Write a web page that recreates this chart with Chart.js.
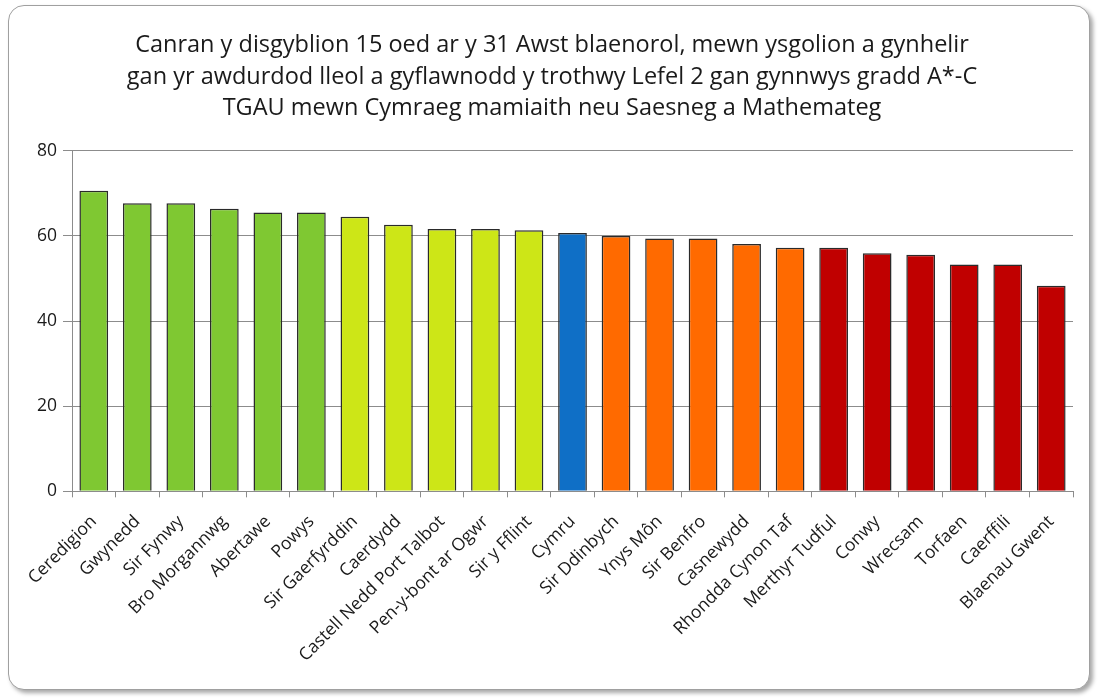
<!DOCTYPE html>
<html>
<head>
<meta charset="utf-8">
<script src="https://cdn.jsdelivr.net/npm/chart.js@4.4.1/dist/chart.umd.min.js"></script>
<style>
  html, body { margin: 0; padding: 0; background: #fff; }
  #box {
    position: absolute; left: 8px; top: 5px; width: 1080px; height: 683px;
    border: 1px solid #a0a0a0; border-radius: 16px; background: #fff;
    box-shadow: 3px 3px 4px rgba(0,0,0,0.35);
  }
  #wrap { position: absolute; left: 0; top: 0; width: 1080px; height: 683px; }
</style>
</head>
<body>
<div id="box"><div id="wrap"><canvas id="chart"></canvas></div></div>
<script>
const titleLines = [
  'Canran y disgyblion 15 oed ar y 31 Awst blaenorol, mewn ysgolion a gynhelir',
  'gan yr awdurdod lleol a gyflawnodd y trothwy Lefel 2 gan gynnwys gradd A*-C',
  'TGAU mewn Cymraeg mamiaith neu Saesneg a Mathemateg'
]
const areas = ['Ceredigion', 'Gwynedd', 'Sir Fynwy', 'Bro Morgannwg', 'Abertawe', 'Powys',
  'Sir Gaerfyrddin', 'Caerdydd', 'Castell Nedd Port Talbot', 'Pen-y-bont ar Ogwr', 'Sir y Fflint',
  'Cymru', 'Sir Ddinbych', 'Ynys Môn', 'Sir Benfro', 'Casnewydd', 'Rhondda Cynon Taf',
  'Merthyr Tudful', 'Conwy', 'Wrecsam', 'Torfaen', 'Caerffili', 'Blaenau Gwent']
const percent = [70.6, 67.7, 67.7, 66.4, 65.5, 65.5, 64.5, 62.6, 61.6, 61.6, 61.3,
  60.7, 60.0, 59.4, 59.4, 58.1, 57.2, 57.2, 55.9, 55.6, 53.3, 53.3, 48.3]
// quartile group of each area (0 = top ... 3 = bottom, 'W' = Wales average)
const quartile = [0, 0, 0, 0, 0, 0, 1, 1, 1, 1, 1, 'W', 2, 2, 2, 2, 2, 3, 3, 3, 3, 3, 3]
const yTicks = [0, 20, 40, 60, 80]

const fills = { 0: '#7fc832', 1: '#cde617', 2: '#ff6a00', 3: '#c00000', W: '#0f6fc6' }
const font = '"Open Sans", "DejaVu Sans", sans-serif'

new Chart(document.getElementById('chart'), {
  type: 'bar',
  data: {
    labels: areas,
    datasets: [{
      data: percent,
      backgroundColor: quartile.map(q => fills[q]),
      borderColor: '#2a2a2a',
      borderWidth: 1.5,
      barPercentage: 0.66,
      categoryPercentage: 1
    }]
  },
  options: {
    responsive: true,
    maintainAspectRatio: false,
    animation: false,
    layout: { padding: { left: 22, right: 16, top: 24, bottom: 9 } },
    plugins: {
      legend: { display: false },
      tooltip: { enabled: false },
      title: {
        display: true,
        text: titleLines,
        color: '#1a1a1a',
        font: { family: font, size: 23.5, weight: 'normal', lineHeight: 1.33 },
        padding: { top: 0, bottom: 27 }
      }
    },
    scales: {
      x: {
        offset: true,
        grid: { display: true, drawOnChartArea: false, offset: true, tickLength: 6, color: '#8c8c8c' },
        border: { color: '#8c8c8c' },
        ticks: {
          autoSkip: false, minRotation: 45, maxRotation: 45, padding: 14,
          color: '#1a1a1a', font: { family: font, size: 17.5 }
        }
      },
      y: {
        min: 0, max: 80,
        afterBuildTicks: axis => { axis.ticks = yTicks.map(v => ({ value: v })) },
        grid: { color: '#8c8c8c', tickLength: 9 },
        border: { color: '#8c8c8c' },
        ticks: { color: '#1a1a1a', padding: 6, font: { family: font, size: 17.5 } }
      }
    }
  }
})
</script>
</body>
</html>
